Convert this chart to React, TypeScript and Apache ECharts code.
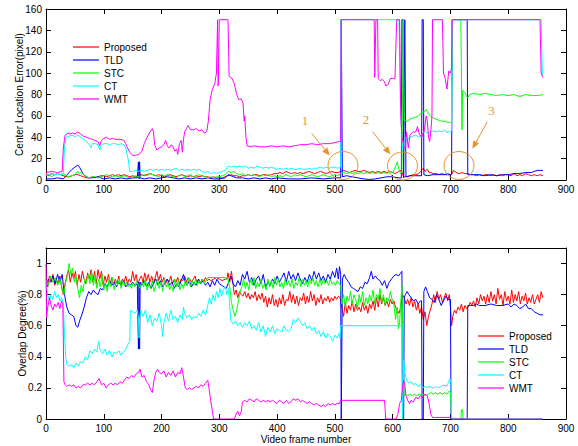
import React, { useEffect, useRef } from "react";
import * as echarts from "echarts";

const names = ["Proposed", "TLD", "STC", "CT", "WMT"];
const colors = ["#ff0000", "#0000ff", "#00ff00", "#00ffff", "#ff00ff"];

const xTicks = { min: 0, max: 900, interval: 100 };
const errTicks = { min: 0, max: 160, interval: 20 };
const ovTicks = { min: 0, max: 1.1, interval: 0.2 };

// ---- Center location error (pixel), flat [frame, value, ...]
const errProposed = [0,5,5,4,10,6,15,5,20,6,25,5,30,4,35,3,40,3,45,4,50,5,55,5,60,4,65,3,70,2,75,2,80,3,85,2,90,3,95,4,100,4,105,3,110,4,115,5,120,4,125,5,130,4,135,5,140,4,145,3,150,4,155,3,160,4,165,5,170,4,175,5,180,6,185,5,190,4,195,5,200,4,205,3,210,4,215,5,220,4,225,3,230,4,235,5,240,4,245,3,250,4,255,3,260,4,265,3,270,4,275,3,280,3,285,2,290,3,295,2,300,2,305,2,310,3,315,4,320,5,325,4,330,4,335,3,340,4,345,4,350,5,355,4,360,5,365,5,370,4,375,5,380,5,385,4,390,5,395,6,400,6,405,7,410,6,415,8,420,7,425,6,430,7,435,6,440,7,445,6,450,7,455,8,460,7,465,6,470,7,475,8,480,7,485,6,490,7,495,8,500,7,505,7,510,8,515,9,520,8,525,7,530,8,535,9,540,8,545,8,550,9,555,8,560,7,565,8,570,7,575,8,580,7,585,8,590,7,595,8,600,7,605,6,610,8,615,9,618,4,620,3,625,3,630,4,635,5,640,5,645,6,650,9,653,11,656,8,660,10,663,7,666,7,670,6,675,6,680,5,685,6,690,5,695,6,700,5,703,6,705,9,708,8,710,7,715,6,720,7,725,6,730,6,735,5,740,5,745,4,750,5,755,4,760,5,765,5,770,4,775,5,780,4,785,5,790,4,795,5,800,5,805,4,810,6,815,4,820,5,825,4,830,6,835,5,840,4,845,5,850,4,855,5,860,4];
const errTLD = [0,1,10,1,20,2,30,1,35,4,40,7,45,10,50,12,55,14,58,12,62,8,65,5,70,3,75,2,80,2,90,3,95,2,100,1,110,2,120,1,130,2,140,1,150,2,158,2,160,17,161,1,162,17,163,2,170,1,180,2,190,1,200,2,210,3,220,2,230,1,240,2,250,1,260,2,270,1,280,2,290,1,300,1,310,2,315,5,320,4,325,3,330,2,340,2,350,1,360,2,370,1,380,2,390,1,400,2,420,1,440,1,460,2,480,1,500,2,510,2,511,150,512,150,513,3,520,4,530,3,540,2,550,1,560,0.5,570,1,580,2,590,3,600,3,610,2,615,2,616,150,618,150,619,2,621,150,622,150,623,3,630,4,640,4,650,4,651,150,653,150,654,5,660,4,670,5,680,5,690,5,700,5,702,5,703,150,729,150,730,5,740,5,750,5,760,4,770,5,780,4,790,5,800,5,810,6,820,6,830,7,840,7,850,9,860,9];
const errSTC = [0,4,5,5,10,3,15,5,20,6,25,5,30,6,35,4,40,3,45,4,50,5,55,8,58,6,60,7,65,5,70,3,75,2,80,3,85,3,90,2,95,3,100,4,105,5,110,4,115,3,120,4,125,3,130,3,135,4,140,3,145,2,150,3,155,4,160,3,165,4,170,5,175,4,180,6,185,5,190,4,195,3,200,5,205,4,210,5,215,4,220,3,225,2,230,4,235,5,240,3,245,4,250,5,255,3,260,4,265,5,270,4,275,3,280,2,285,3,290,2,295,3,300,3,305,4,310,5,315,8,320,7,325,8,330,6,335,5,340,6,345,4,350,5,355,4,360,5,365,4,370,3,375,5,380,4,385,5,390,3,395,4,400,3,405,4,410,3,415,5,420,4,425,3,430,5,435,4,440,5,445,4,450,3,455,4,460,5,465,4,470,3,475,4,480,5,485,4,490,3,495,4,500,5,505,4,510,6,515,7,520,6,525,7,530,6,535,7,540,6,545,7,550,6,555,7,560,6,565,7,570,6,575,7,580,6,585,7,590,6,595,8,600,7,603,10,606,14,608,17,610,12,612,8,614,6,616,8,618,150,619,150,620,56,625,55,630,57,635,58,640,59,645,60,650,63,655,64,658,66,662,62,665,60,670,58,675,57,680,56,685,55,690,55,695,54,700,54,702,54,703,150,718,150,720,47,721,84,725,82,728,78,730,77,733,80,740,81,750,80,760,81,770,80,780,79,790,80,800,79,810,80,820,78,830,80,840,79,850,79,860,80];
const errCT = [0,6,5,5,10,6,15,5,20,6,25,5,30,6,32,30,35,40,40,41,45,42,50,40,55,42,60,40,65,38,70,36,75,33,78,30,80,34,85,34,90,33,93,28,95,32,100,34,105,34,110,33,115,34,120,34,125,33,130,34,135,33,138,30,140,25,142,20,145,8,150,8,155,9,160,8,165,9,170,8,175,9,180,10,185,9,190,10,195,9,200,10,205,9,210,10,215,9,220,10,225,11,230,9,235,10,240,9,245,10,250,9,255,10,260,9,265,10,270,8,275,7,280,8,285,6,290,7,295,6,300,7,305,8,310,9,315,13,320,12,325,13,330,12,335,13,340,12,345,13,350,11,355,12,360,11,365,13,370,12,375,11,380,12,385,11,390,12,395,11,400,10,405,11,410,10,415,11,420,10,425,11,430,10,435,10,440,11,445,10,450,10,455,11,460,10,465,11,470,11,475,12,480,11,485,12,490,11,495,12,500,12,505,11,510,12,511,150,611,150,613,80,615,50,617,27,619,35,622,40,625,38,630,40,635,41,640,42,645,40,650,42,655,46,660,44,665,45,670,46,675,45,680,46,685,45,690,47,695,44,698,46,700,45,702,46,703,150,857,150,859,100,860,98];
const errWMT = [0,7,10,8,20,7,28,8,30,30,33,42,38,44,42,43,46,44,50,43,55,45,60,43,65,41,70,40,75,39,80,38,85,37,90,36,93,32,96,37,100,39,105,40,110,38,115,39,120,38,125,38,130,38,135,37,138,34,141,30,145,26,150,23,155,23,160,24,163,25,166,27,170,34,175,40,180,45,184,48,186,45,188,33,192,28,196,30,200,31,204,33,207,37,210,32,213,30,217,33,220,31,223,27,226,29,228,24,231,34,234,37,236,26,238,38,240,45,243,48,246,51,250,47,255,47,260,48,265,46,270,47,274,44,278,45,281,55,284,75,288,85,292,90,295,100,297,150,298,88,300,150,315,150,317,97,322,95,326,90,330,80,334,75,338,76,341,72,343,55,344,60,346,40,348,32,355,31,360,32,370,31,380,31,390,32,400,31,410,32,420,31,430,32,440,33,450,33,460,34,470,33,480,34,490,34,500,35,508,36,510,36,511,150,568,150,569,96,571,150,574,150,575,95,578,93,582,94,586,92,588,88,592,89,596,95,600,95,604,95,607,150,612,150,614,60,616,40,618,35,620,30,622,30,624,45,627,30,630,42,635,45,640,45,643,50,646,43,650,40,655,47,658,60,660,55,662,40,664,36,666,45,668,60,669,150,686,150,688,100,691,95,694,85,697,102,700,100,702,105,703,150,855,150,857,100,860,96];

// ---- Overlap degree, flat [frame, value, ...]
const ovProposed = [0,0.9,3,0.85,6,0.92,9,0.88,12,0.93,15,0.86,18,0.9,21,0.87,24,0.92,27,0.85,30,0.8,33,0.87,36,0.92,39,0.96,42,0.88,45,0.94,48,0.9,51,0.95,54,0.86,57,0.93,60,0.88,63,0.95,66,0.9,69,0.87,72,0.94,75,0.9,78,0.96,81,0.88,84,0.95,87,0.87,90,0.96,93,0.9,96,0.95,99,0.86,102,0.92,105,0.88,108,0.93,111,0.87,114,0.91,117,0.86,120,0.9,123,0.87,126,0.92,129,0.86,132,0.9,135,0.88,138,0.92,141,0.87,144,0.9,147,0.88,150,0.95,153,0.89,156,0.93,159,0.87,162,0.9,165,0.92,168,0.88,171,0.94,174,0.89,177,0.93,180,0.88,183,0.92,186,0.87,189,0.91,192,0.95,195,0.89,198,0.93,201,0.88,204,0.91,207,0.87,210,0.9,213,0.88,216,0.92,219,0.87,222,0.9,225,0.88,228,0.91,231,0.87,234,0.9,237,0.89,240,0.92,243,0.88,246,0.91,249,0.9,252,0.88,255,0.9,258,0.92,261,0.88,264,0.9,267,0.87,270,0.9,273,0.88,276,0.91,279,0.89,282,0.9,285,0.89,290,0.9,295,0.91,300,0.9,305,0.89,310,0.9,313,0.9,315,0.94,318,0.88,321,0.95,324,0.86,326,0.8,329,0.83,332,0.78,335,0.82,338,0.8,341,0.79,344,0.82,347,0.78,350,0.81,353,0.77,356,0.8,359,0.78,362,0.82,365,0.76,368,0.8,371,0.77,374,0.81,377,0.75,380,0.79,383,0.72,386,0.78,389,0.74,392,0.8,395,0.73,398,0.77,401,0.72,404,0.78,407,0.74,410,0.8,413,0.73,416,0.77,419,0.76,422,0.82,425,0.75,428,0.8,431,0.74,434,0.79,437,0.73,440,0.78,443,0.76,446,0.81,449,0.74,452,0.79,455,0.75,458,0.82,461,0.76,464,0.8,467,0.73,470,0.78,473,0.75,476,0.8,479,0.74,482,0.78,485,0.76,488,0.79,491,0.75,494,0.78,497,0.76,500,0.79,503,0.77,506,0.79,509,0.78,512,0.72,515,0.66,518,0.75,521,0.68,524,0.73,527,0.7,530,0.76,533,0.69,536,0.74,539,0.7,542,0.72,545,0.69,548,0.75,551,0.7,554,0.73,557,0.68,560,0.74,563,0.71,566,0.76,569,0.7,572,0.78,575,0.72,578,0.8,581,0.74,584,0.78,587,0.73,590,0.76,593,0.72,596,0.77,599,0.74,602,0.76,605,0.72,608,0.7,611,0.68,614,0.72,617,0.8,620,0.78,623,0.74,626,0.77,629,0.73,632,0.78,635,0.72,638,0.76,641,0.7,644,0.74,647,0.68,650,0.72,653,0.64,656,0.69,659,0.6,662,0.66,665,0.7,668,0.74,671,0.8,674,0.75,677,0.82,680,0.77,683,0.8,686,0.75,689,0.78,692,0.81,695,0.76,698,0.8,700,0.72,702,0.6,704,0.66,707,0.7,710,0.68,713,0.72,716,0.7,719,0.74,722,0.69,725,0.73,728,0.71,731,0.72,734,0.75,737,0.73,740,0.76,743,0.72,746,0.78,749,0.74,752,0.8,755,0.76,758,0.79,761,0.74,764,0.8,767,0.75,770,0.82,773,0.76,776,0.8,779,0.74,782,0.84,785,0.77,788,0.8,791,0.73,794,0.82,797,0.76,800,0.79,803,0.74,806,0.83,809,0.75,812,0.8,815,0.76,818,0.82,821,0.74,824,0.79,827,0.76,830,0.81,833,0.74,836,0.78,839,0.75,842,0.8,845,0.74,848,0.77,851,0.8,854,0.75,857,0.82,860,0.78];
const ovTLD = [0,0.85,4,0.9,8,0.88,12,0.92,16,0.87,20,0.93,24,0.88,28,0.93,30,0.86,33,0.78,36,0.72,40,0.68,44,0.67,48,0.66,52,0.6,55,0.59,58,0.63,62,0.67,66,0.72,70,0.78,74,0.82,78,0.8,82,0.83,86,0.81,90,0.8,94,0.84,98,0.83,102,0.87,106,0.85,110,0.89,114,0.86,118,0.88,122,0.85,126,0.88,130,0.86,134,0.89,138,0.85,142,0.87,146,0.86,150,0.88,154,0.86,158,0.87,160,0.45,161,0.88,162,0.45,163,0.88,166,0.86,170,0.89,174,0.85,178,0.88,182,0.84,186,0.87,190,0.9,194,0.86,198,0.89,202,0.85,206,0.88,210,0.9,214,0.86,218,0.88,222,0.84,226,0.87,230,0.85,234,0.89,238,0.93,241,0.88,244,0.86,248,0.89,252,0.85,256,0.88,260,0.86,264,0.9,268,0.87,272,0.89,276,0.86,280,0.88,284,0.85,288,0.89,292,0.86,296,0.9,300,0.87,304,0.86,308,0.85,312,0.84,316,0.88,320,0.92,324,0.87,328,0.85,332,0.89,336,0.86,340,0.93,344,0.9,348,0.95,352,0.88,356,0.91,360,0.86,364,0.9,368,0.92,372,0.87,376,0.93,380,0.85,384,0.88,388,0.86,392,0.9,396,0.87,400,0.92,404,0.88,408,0.91,412,0.94,416,0.88,420,0.95,424,0.9,428,0.93,432,0.89,436,0.94,440,0.9,444,0.87,448,0.91,452,0.88,456,0.93,460,0.89,464,0.95,468,0.9,472,0.94,476,0.89,480,0.92,484,0.88,488,0.93,492,0.9,496,0.95,500,0.91,503,0.97,506,0.9,508,0.98,510,0.93,511,0,512,0,513,0.9,516,0.93,520,0.9,524,0.88,528,0.85,532,0.84,536,0.83,540,0.82,544,0.85,548,0.84,552,0.88,556,0.87,560,0.91,563,0.95,566,0.9,570,0.92,574,0.9,578,0.89,582,0.86,586,0.89,590,0.84,594,0.88,598,0.9,602,0.92,606,0.93,610,0.92,614,0.94,616,0.95,617,0,619,0,620,0.78,622,0.8,625,0.82,628,0.8,632,0.78,636,0.76,640,0.77,644,0.74,648,0.76,650,0.76,651,0,653,0,654,0.82,657,0.85,660,0.82,664,0.78,668,0.77,672,0.75,676,0.8,680,0.77,684,0.73,688,0.76,692,0.79,696,0.77,700,0.77,701,0,729,0,730,0.73,735,0.73,740,0.73,745,0.74,750,0.73,760,0.73,770,0.74,780,0.73,790,0.73,800,0.74,805,0.72,810,0.74,815,0.73,820,0.71,825,0.72,830,0.74,835,0.71,840,0.71,845,0.69,850,0.68,855,0.67,860,0.67];
const ovSTC = [0,0.9,4,0.86,8,0.92,12,0.88,16,0.91,20,0.86,24,0.9,28,0.84,31,0.8,34,0.88,37,0.92,40,1.0,43,0.93,46,0.97,49,0.88,52,0.92,55,0.84,58,0.78,61,0.86,64,0.82,67,0.9,70,0.88,73,0.93,76,0.87,79,0.95,82,0.86,85,0.92,88,0.84,91,0.9,94,0.85,97,0.93,100,0.83,103,0.88,106,0.82,109,0.9,112,0.85,115,0.91,118,0.83,121,0.89,124,0.86,127,0.9,130,0.84,133,0.89,136,0.86,139,0.88,142,0.85,145,0.87,148,0.84,151,0.88,154,0.85,157,0.89,160,0.86,163,0.84,166,0.88,169,0.85,172,0.9,175,0.83,178,0.87,181,0.84,184,0.89,187,0.82,190,0.86,193,0.9,196,0.84,199,0.88,202,0.82,205,0.9,208,0.85,211,0.88,214,0.83,217,0.86,220,0.82,223,0.9,226,0.85,229,0.89,232,0.83,235,0.87,238,0.84,241,0.89,244,0.86,247,0.91,250,0.85,253,0.89,256,0.86,259,0.9,262,0.86,265,0.89,268,0.87,271,0.9,274,0.87,277,0.89,280,0.91,290,0.91,300,0.91,310,0.91,315,0.9,318,0.85,321,0.75,324,0.7,327,0.66,330,0.7,333,0.76,336,0.82,339,0.85,342,0.9,345,0.84,348,0.88,351,0.83,354,0.9,357,0.86,360,0.91,363,0.84,366,0.88,369,0.85,372,0.9,375,0.84,378,0.87,381,0.83,384,0.9,387,0.85,390,0.89,393,0.84,396,0.91,399,0.86,402,0.9,405,0.85,408,0.88,411,0.84,414,0.9,417,0.86,420,0.89,423,0.85,426,0.9,429,0.84,432,0.88,435,0.86,438,0.91,441,0.85,444,0.9,447,0.86,450,0.89,453,0.85,456,0.9,459,0.87,462,0.91,465,0.86,468,0.89,471,0.85,474,0.9,477,0.86,480,0.9,483,0.87,486,0.89,489,0.86,492,0.9,495,0.87,498,0.88,501,0.86,504,0.89,507,0.87,510,0.86,512,0.74,515,0.8,518,0.72,521,0.79,524,0.76,527,0.82,530,0.74,533,0.8,536,0.77,539,0.71,542,0.8,545,0.75,548,0.82,551,0.73,554,0.78,557,0.74,560,0.8,563,0.76,566,0.83,569,0.74,572,0.8,575,0.77,578,0.84,581,0.75,584,0.8,587,0.73,590,0.78,593,0.76,596,0.82,599,0.77,602,0.74,605,0.64,608,0.72,610,0.58,612,0.62,614,0.75,616,0.86,618,0.4,620,0.15,623,0.16,626,0.15,630,0.16,634,0.15,638,0.16,642,0.15,646,0.16,650,0.15,654,0.16,658,0.15,662,0.16,666,0.17,670,0.16,674,0.17,678,0.16,682,0.17,686,0.16,690,0.17,694,0.16,698,0.18,700,0.17,702,0,718,0,719,0.06,721,0.06,722,0,860,0];
const ovCT = [0,0.88,3,0.8,6,0.76,9,0.8,12,0.77,15,0.82,18,0.78,21,0.8,24,0.76,27,0.78,30,0.74,32,0.55,34,0.4,36,0.35,40,0.34,44,0.35,48,0.33,52,0.36,56,0.34,60,0.37,64,0.36,68,0.4,72,0.38,76,0.44,80,0.42,84,0.45,88,0.43,91,0.5,94,0.44,98,0.42,102,0.45,106,0.41,110,0.44,114,0.4,118,0.43,122,0.42,126,0.44,130,0.41,134,0.43,138,0.45,142,0.48,145,0.5,146,0.7,150,0.69,154,0.68,158,0.7,160,0.65,161,0.52,162,0.65,164,0.7,168,0.66,172,0.7,176,0.62,180,0.67,184,0.6,188,0.65,192,0.63,196,0.68,200,0.6,202,0.53,204,0.62,208,0.68,212,0.63,216,0.7,220,0.64,224,0.66,228,0.62,232,0.67,236,0.64,238,0.72,240,0.68,244,0.65,248,0.67,252,0.64,256,0.66,260,0.65,264,0.68,268,0.66,272,0.7,276,0.67,280,0.73,283,0.78,286,0.74,289,0.8,292,0.76,295,0.82,298,0.78,301,0.84,304,0.79,307,0.83,310,0.85,313,0.8,316,0.84,318,0.72,320,0.63,324,0.61,328,0.63,332,0.6,336,0.62,340,0.59,344,0.62,348,0.6,352,0.63,356,0.58,360,0.6,364,0.57,368,0.62,372,0.56,376,0.6,380,0.53,384,0.59,388,0.56,392,0.6,396,0.55,400,0.58,404,0.57,408,0.56,412,0.6,416,0.57,420,0.56,424,0.58,428,0.64,432,0.62,436,0.65,440,0.63,444,0.6,448,0.62,452,0.58,456,0.6,460,0.57,464,0.59,468,0.55,472,0.57,476,0.53,480,0.56,484,0.52,488,0.55,492,0.53,496,0.5,500,0.54,504,0.52,507,0.55,509,0.52,510,0.6,616,0.6,617,0,618,0,619,0.38,621,0.3,624,0.25,628,0.23,632,0.24,636,0.22,640,0.23,644,0.21,648,0.22,652,0.2,656,0.21,660,0.2,664,0.21,668,0.2,672,0.2,676,0.21,680,0.2,684,0.21,688,0.22,692,0.21,696,0.23,699,0.26,701,0.24,702,0,860,0];
const ovWMT = [0,1.0,1,0.65,3,0.72,6,0.78,9,0.73,12,0.7,15,0.74,18,0.72,21,0.75,24,0.71,27,0.76,29,0.75,30,0.5,31,0.24,33,0.22,36,0.21,40,0.22,44,0.21,48,0.22,52,0.2,56,0.21,60,0.2,64,0.22,68,0.22,72,0.23,76,0.22,80,0.23,84,0.22,88,0.24,92,0.26,96,0.22,100,0.23,104,0.2,108,0.22,112,0.23,116,0.22,120,0.23,124,0.22,128,0.24,132,0.23,136,0.25,140,0.27,144,0.26,148,0.28,152,0.27,156,0.29,160,0.3,163,0.32,166,0.27,170,0.28,174,0.24,178,0.22,181,0.19,184,0.17,187,0.25,190,0.3,193,0.32,196,0.3,200,0.29,204,0.31,208,0.27,212,0.3,216,0.28,220,0.31,224,0.27,228,0.3,232,0.29,235,0.33,238,0.27,241,0.2,244,0.19,248,0.2,252,0.19,256,0.2,260,0.21,264,0.2,268,0.22,272,0.21,276,0.23,280,0.25,282,0.2,285,0.12,288,0.05,290,0,326,0,329,0.03,332,0.05,335,0.02,338,0.05,340,0.11,344,0.12,348,0.11,352,0.13,356,0.12,360,0.11,364,0.13,368,0.12,372,0.11,376,0.12,380,0.11,384,0.12,388,0.11,392,0.12,396,0.11,400,0.1,404,0.12,408,0.11,412,0.1,416,0.12,420,0.1,424,0.11,428,0.13,432,0.12,436,0.13,440,0.11,444,0.12,448,0.11,452,0.1,456,0.11,460,0.1,464,0.09,468,0.1,472,0.09,476,0.08,480,0.09,484,0.08,488,0.1,492,0.09,496,0.1,500,0.09,504,0.1,508,0.1,510,0.12,586,0.12,588,0,606,0,609,0.03,612,0.1,615,0.12,617,0.2,619,0.25,621,0.22,623,0.15,626,0.12,629,0.1,632,0.12,636,0.11,640,0.14,644,0.13,648,0.15,652,0.14,656,0.16,660,0.15,663,0.1,666,0.03,669,0.01,673,0.01,700,0.01,702,0,860,0];

const errData = [errProposed, errTLD, errSTC, errCT, errWMT];
const ovData = [ovProposed, ovTLD, ovSTC, ovCT, ovWMT];

// annotation labels
const markLabels = ["1", "2", "3"];

const pairs = (flat: number[]) => {
  const out: number[][] = [];
  for (let i = 0; i < flat.length; i += 2) out.push([flat[i], flat[i + 1]]);
  return out;
};

const FONT = "Liberation Sans";
const ORANGE = "#e8922c";

const arrow = (x1: number, y1: number, x2: number, y2: number) => {
  const dx = x2 - x1, dy = y2 - y1;
  const len = Math.sqrt(dx * dx + dy * dy);
  const ux = dx / len, uy = dy / len;
  const hl = 7, hw = 3;
  const bx = x2 - ux * hl, by = y2 - uy * hl;
  return [
    { type: "line", shape: { x1, y1, x2: bx, y2: by }, style: { stroke: ORANGE, lineWidth: 1 }, z: 100 },
    {
      type: "polygon",
      shape: { points: [[x2, y2], [bx - uy * hw, by + ux * hw], [bx + uy * hw, by - ux * hw]] },
      style: { fill: ORANGE, stroke: ORANGE, lineWidth: 0.5 },
      z: 100,
    },
  ];
};

export default function App() {
  const ref = useRef<HTMLDivElement>(null);
  useEffect(() => {
    if (!ref.current) return;
    const chart = echarts.init(ref.current, null, { renderer: "svg" });
    const axisLine = { show: true, onZero: false, lineStyle: { color: "#000", width: 1 } };
    const tick = { show: true, inside: true, length: 5, lineStyle: { color: "#000", width: 1 } };
    const lbl = { color: "#000", fontSize: 10, fontFamily: FONT };
    const grids = [
      { left: 46, top: 9, width: 520, height: 171 },
      { left: 46, top: 248, width: 520, height: 171 },
    ];
    const xAxis: any[] = [];
    const yAxis: any[] = [];
    [0, 1].forEach((g) => {
      xAxis.push({
        type: "value", gridIndex: g, position: "bottom", ...xTicks,
        axisLine, axisTick: tick, splitLine: { show: false },
        axisLabel: { ...lbl, margin: 4 },
        name: g === 1 ? "Video frame number" : "",
        nameLocation: "middle", nameGap: 15, nameMoveOverlap: false,
        nameTextStyle: { color: "#000", fontSize: 10, fontFamily: FONT },
      });
      xAxis.push({
        type: "value", gridIndex: g, position: "top", ...xTicks,
        axisLine, axisTick: tick, splitLine: { show: false }, axisLabel: { show: false },
      });
      const yt = g === 0 ? errTicks : ovTicks;
      yAxis.push({
        type: "value", gridIndex: g, position: "left", ...yt,
        axisLine, axisTick: tick, splitLine: { show: false },
        axisLabel: {
          ...lbl, margin: 4,
          formatter: (v: number) => (g === 1 ? (v > 1.05 ? "" : String(+v.toFixed(1))) : String(v)),
        },
        name: g === 0 ? "Center Location Error(pixel)" : "Overlap Degree(%)",
        nameLocation: "middle", nameGap: g === 0 ? 22 : 19, nameMoveOverlap: false,
        nameTextStyle: { color: "#000", fontSize: 10, fontFamily: FONT },
      });
      yAxis.push({
        type: "value", gridIndex: g, position: "right", ...yt,
        axisLine, axisTick: tick, splitLine: { show: false }, axisLabel: { show: false },
      });
    });
    const series: any[] = [];
    errData.forEach((d, i) =>
      series.push({
        type: "line", name: names[i], xAxisIndex: 0, yAxisIndex: 0, data: pairs(d),
        symbol: "none", lineStyle: { color: colors[i], width: 1 }, itemStyle: { color: colors[i] },
        z: 2 + i,
      })
    );
    ovData.forEach((d, i) =>
      series.push({
        type: "line", name: names[i], xAxisIndex: 2, yAxisIndex: 2, data: pairs(d),
        symbol: "none", lineStyle: { color: colors[i], width: 1 }, itemStyle: { color: colors[i] },
        z: 2 + i,
      })
    );
    const legendBase = {
      orient: "vertical", data: names.map((n) => ({ name: n, icon: "rect" })),
      itemWidth: 26, itemHeight: 1.2, itemGap: 1,
      selectedMode: false, padding: 0,
      textStyle: { color: "#000", fontSize: 10, fontFamily: FONT, lineHeight: 12 },
    };
    const circles = [
      [343, 165.5],
      [402.5, 166],
      [459, 165.5],
    ];
    const labelPos = [
      [305, 120],
      [366, 119.5],
      [491.5, 110],
    ];
    const graphic: any[] = [];
    circles.forEach(([cx, cy]) =>
      graphic.push({
        type: "ellipse", shape: { cx, cy, rx: 15, ry: 14 },
        style: { fill: "none", stroke: ORANGE, lineWidth: 1 }, z: 100,
      })
    );
    labelPos.forEach(([x, y], i) =>
      graphic.push({
        type: "text", x, y,
        style: { text: markLabels[i], fill: ORANGE, font: "13px 'Liberation Serif'", align: "center", verticalAlign: "middle" },
        z: 100,
      })
    );
    graphic.push(...arrow(311.7, 133.3, 329.3, 155));
    graphic.push(...arrow(372.7, 131.7, 390, 154));
    graphic.push(...arrow(487.3, 121.7, 472.7, 148.3));

    chart.setOption({
      animation: false,
      backgroundColor: "#fff",
      grid: grids,
      xAxis,
      yAxis,
      legend: [
        { ...legendBase, left: 73, top: 41 },
        { ...legendBase, left: 478, top: 330 },
      ],
      series,
      graphic,
    });
    return () => chart.dispose();
  }, []);
  return <div ref={ref} style={{ width: 578, height: 446, position: "absolute", left: 0, top: 0 }} />;
}
